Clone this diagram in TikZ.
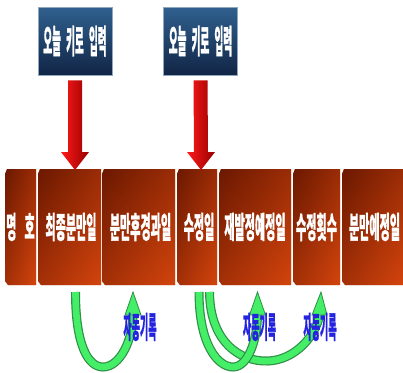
\documentclass[tikz,border=0pt]{standalone}
\usepackage{fontspec}
\newfontfamily\kr{Noto Sans CJK KR}[BoldFeatures={FakeBold=1.2}]
\usetikzlibrary{calc}
\definecolor{pL}{HTML}{6E1A02}
\definecolor{pR}{HTML}{CC420E}
\definecolor{pT}{HTML}{6A1800}
\definecolor{pB}{HTML}{DA460C}
\definecolor{bT}{HTML}{30608F}
\definecolor{bB}{HTML}{112545}
\definecolor{bEdge}{HTML}{8FA8C0}
\definecolor{gEdge}{HTML}{2F8F48}
\definecolor{gFill}{HTML}{44EE66}
\definecolor{lblue}{HTML}{2424E0}
\definecolor{rL}{HTML}{FF1A1A}
\definecolor{rM}{HTML}{E80000}
\definecolor{rR}{HTML}{960000}
\newcommand\ptxt[1]{\scalebox{0.37}[1]{\kr\bfseries\fontsize{30pt}{32pt}\selectfont #1}}
\newcommand\btxt[1]{\scalebox{0.29}[1]{\kr\bfseries\fontsize{33pt}{35pt}\selectfont #1}}
\newcommand\ltxt[1]{\scalebox{0.3}[1]{\kr\bfseries\fontsize{30pt}{32pt}\selectfont #1}}
\begin{document}
\begin{tikzpicture}[x=1pt,y=-1pt,
  inbox/.style={draw=bEdge, line width=0.8pt, top color=bT, bottom color=bB,
    minimum width=74pt, minimum height=68pt, inner sep=0pt, text=white},
  ptext/.style={text=white, inner sep=0pt},
  ltext/.style={text=lblue, inner sep=0pt},
  gout/.style={draw=gEdge, line width=9pt},
  gin/.style={draw=gFill, line width=6.6pt},
  ghead/.style={fill=gFill, draw=gEdge, line width=0.8pt, line join=miter}
]
\useasboundingbox (0,0) rectangle (403,372);

% panels
\foreach \a/\b in {5/36, 38/101, 102/175, 177/217, 219/291, 293/340, 342/403}{
  \shade[left color=pL, right color=pR] (\a,174) -- (\a+2,169) -- (\b,169) -- (\b,285) -- (\a+3,285) -- (\a,281) -- cycle;
  \shade[top color=pT, bottom color=pB, fill opacity=0.5] (\a,174) -- (\a+2,169) -- (\b,169) -- (\b,285) -- (\a+3,285) -- (\a,281) -- cycle;
}

% panel texts
\node[ptext] (c1) at (20.5,227) {\ptxt{명\hspace{22pt}호}};
\node[ptext] (c2) at (71,227) {\ptxt{최종분만일}};
\node[ptext] (c3) at (140.5,227) {\ptxt{분만후경과일}};
\node[ptext] (c4) at (199,227) {\ptxt{수정일}};
\node[ptext] (c5) at (255,227) {\ptxt{재발정예정일}};
\node[ptext] (c6) at (316.5,227) {\ptxt{수정횟수}};
\node[ptext] (c7) at (374.5,227) {\ptxt{분만예정일}};

% input boxes
\node[inbox] (in1) at (75,41) {\btxt{오늘\hspace{18pt}키로\hspace{18pt}입력}};
\node[inbox] (in2) at (200.5,41) {\btxt{오늘\hspace{18pt}키로\hspace{18pt}입력}};

% red arrows
\coordinate (t1) at (75,170);
\coordinate (t2) at (201,170);
\foreach \s/\t in {in1/t1, in2/t2}{
  \shade[left color=rL, middle color=rM, right color=rR]
    ($(\s.south)+(-7,5)$) -- ($(\s.south)+(7,5)$) -- ($(\t)+(7,-18)$) -- ($(\t)+(14,-18)$)
    -- (\t) -- ($(\t)+(-14,-18)$) -- ($(\t)+(-7,-18)$) -- cycle;
}

% green arrows
\coordinate (g1s) at (75.5,292);
\coordinate (g1e) at (133,314);
\coordinate (g2s) at (199,292);
\coordinate (g2e) at (257.5,314);
\coordinate (g3s) at (209.5,292);
\coordinate (g3e) at (320,314);

\draw[gout] (g3s) .. controls (210,342) and (240,362) .. (268,361) .. controls (295,360) and (316,336) .. (g3e);
\draw[gin] (g3s) .. controls (210,342) and (240,362) .. (268,361) .. controls (295,360) and (316,336) .. (g3e);
\draw[ghead] ($(g3e)+(-8,1)$) -- ($(g3e)+(7,1)$) -- ($(g3e)+(1,-22)$) -- cycle;

\draw[gout] (g2s) .. controls (199,345) and (218,367) .. (233,367) .. controls (248,367) and (257.5,340) .. (g2e);
\draw[gin] (g2s) .. controls (199,345) and (218,367) .. (233,367) .. controls (248,367) and (257.5,340) .. (g2e);
\draw[ghead] ($(g2e)+(-8,1)$) -- ($(g2e)+(8,1)$) -- ($(g2e)+(0,-22)$) -- cycle;

\draw[gout] (g1s) .. controls (75.5,345) and (88,367) .. (103,367) .. controls (120,367) and (133,340) .. (g1e);
\draw[gin] (g1s) .. controls (75.5,345) and (88,367) .. (103,367) .. controls (120,367) and (133,340) .. (g1e);
\draw[ghead] ($(g1e)+(-8,1)$) -- ($(g1e)+(8,1)$) -- ($(g1e)+(0,-22)$) -- cycle;

% labels
\node[ltext] (l1) at (140,327) {\ltxt{자동기록}};
\node[ltext] (l2) at (259.5,327) {\ltxt{자동기록}};
\node[ltext] (l3) at (320,327) {\ltxt{자동기록}};
\end{tikzpicture}
\end{document}
